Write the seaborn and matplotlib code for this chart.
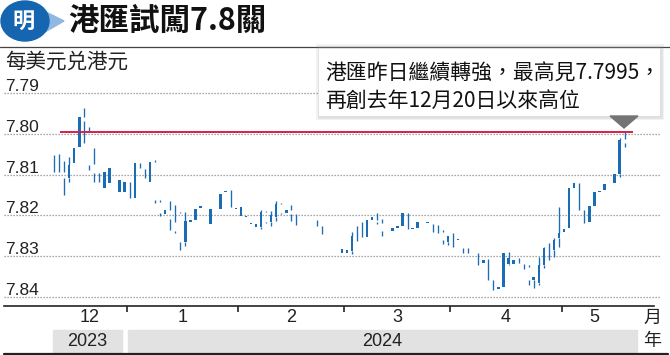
import numpy as np
import pandas as pd
import matplotlib
matplotlib.use("Agg")
import matplotlib.pyplot as plt
import matplotlib.transforms as mtransforms
from matplotlib.patches import Rectangle, Polygon, Ellipse
from matplotlib import font_manager
import seaborn as sns

# ---------------- data ----------------
trade_dates = pd.bdate_range("2023-12-11", "2024-05-17").drop(pd.Timestamp("2024-01-01"))

rate_low = [7.8052, 7.8050, 7.8067, 7.8056, 7.8036, 7.7958, 7.7936, 7.7983, 7.8036, 7.8097,
            7.8094, 7.8083, 7.8089, 7.8113, 7.8119, 7.8119, 7.8072, 7.8072, 7.8086, 7.8068,
            7.8064, 7.8162, 7.8187, 7.8165, 7.8175, 7.8191, 7.8191, 7.8211, 7.8184, 7.8177,
            7.8175, 7.8184, 7.8162, 7.8148, 7.8140, 7.8138, 7.8182, 7.8179, 7.8201, 7.8218,
            7.8221, 7.8187, 7.8189, 7.8189, 7.8165, 7.8169, 7.8187, 7.8175, 7.8197, 7.8199,
            7.8201, 7.8206, 7.8211, 7.8226, 7.8241, 7.8256, 7.8268, 7.8282, 7.8285, 7.8240,
            7.8226, 7.8216, 7.8211, 7.8203, 7.8195, 7.8209, 7.8221, 7.8232, 7.8226, 7.8195,
            7.8195, 7.8230, 7.8217, 7.8211, 7.8216, 7.8221, 7.8224, 7.8236, 7.8250, 7.8244,
            7.8258, 7.8281, 7.8281, 7.8285, 7.8293, 7.8309, 7.8308, 7.8358, 7.8376, 7.8291,
            7.8289, 7.8309, 7.8305, 7.8319, 7.8322, 7.8350, 7.8301, 7.8277, 7.8268, 7.8256,
            7.8180, 7.8233, 7.8134, 7.8121, 7.8120, 7.8187, 7.8177, 7.8142, 7.8140, 7.8123,
            7.8113, 7.8099, 7.8011, 7.7995]
rate_high = [7.8093, 7.8093, 7.8150, 7.8117, 7.8072, 7.8032, 7.8023, 7.8089, 7.8117, 7.8117,
             7.8132, 7.8121, 7.8113, 7.8142, 7.8142, 7.8158, 7.8158, 7.8085, 7.8108, 7.8117,
             7.8169, 7.8201, 7.8197, 7.8236, 7.8242, 7.8285, 7.8275, 7.8216, 7.8211, 7.8182,
             7.8192, 7.8221, 7.8187, 7.8184, 7.8143, 7.8179, 7.8184, 7.8201, 7.8203, 7.8220,
             7.8228, 7.8233, 7.8218, 7.8225, 7.8213, 7.8197, 7.8193, 7.8213, 7.8224, 7.8216,
             7.8221, 7.8226, 7.8226, 7.8246, 7.8273, 7.8280, 7.8285, 7.8291, 7.8291, 7.8295,
             7.8262, 7.8254, 7.8252, 7.8211, 7.8222, 7.8250, 7.8236, 7.8238, 7.8230, 7.8226,
             7.8234, 7.8233, 7.8230, 7.8226, 7.8219, 7.8240, 7.8244, 7.8270, 7.8273, 7.8277,
             7.8260, 7.8293, 7.8293, 7.8300, 7.8322, 7.8317, 7.8358, 7.8383, 7.8381, 7.8375,
             7.8322, 7.8319, 7.8317, 7.8331, 7.8371, 7.8379, 7.8371, 7.8330, 7.8309, 7.8301,
             7.8277, 7.8240, 7.8232, 7.8134, 7.8187, 7.8218, 7.8215, 7.8177, 7.8143, 7.8138,
             7.8126, 7.8120, 7.8105, 7.8033]
rate_open = [7.8052, 7.8050, 7.8109, 7.8076, 7.8036, 7.7958, 7.7969, 7.8076, 7.8097, 7.8097,
             7.8094, 7.8083, 7.8113, 7.8113, 7.8119, 7.8119, 7.8072, 7.8072, 7.8086, 7.8068,
             7.8162, 7.8195, 7.8187, 7.8209, 7.8238, 7.8264, 7.8214, 7.8211, 7.8184, 7.8177,
             7.8192, 7.8184, 7.8187, 7.8148, 7.8140, 7.8138, 7.8182, 7.8179, 7.8201, 7.8218,
             7.8221, 7.8191, 7.8215, 7.8199, 7.8172, 7.8193, 7.8187, 7.8197, 7.8197, 7.8216,
             7.8221, 7.8226, 7.8211, 7.8226, 7.8273, 7.8280, 7.8285, 7.8282, 7.8285, 7.8250,
             7.8226, 7.8216, 7.8211, 7.8203, 7.8217, 7.8238, 7.8236, 7.8232, 7.8226, 7.8195,
             7.8195, 7.8230, 7.8217, 7.8226, 7.8216, 7.8221, 7.8224, 7.8260, 7.8250, 7.8244,
             7.8258, 7.8281, 7.8281, 7.8300, 7.8293, 7.8309, 7.8308, 7.8358, 7.8376, 7.8291,
             7.8304, 7.8309, 7.8305, 7.8319, 7.8358, 7.8350, 7.8322, 7.8281, 7.8268, 7.8260,
             7.8244, 7.8233, 7.8134, 7.8121, 7.8120, 7.8187, 7.8177, 7.8142, 7.8140, 7.8123,
             7.8126, 7.8099, 7.8015, 7.8023]
rate_close = [7.8052, 7.8050, 7.8093, 7.8109, 7.8072, 7.8032, 7.7958, 7.7995, 7.8075, 7.8097,
              7.8132, 7.8121, 7.8089, 7.8142, 7.8142, 7.8119, 7.8158, 7.8072, 7.8086, 7.8117,
              7.8068, 7.8166, 7.8197, 7.8187, 7.8215, 7.8194, 7.8264, 7.8216, 7.8211, 7.8182,
              7.8175, 7.8221, 7.8162, 7.8184, 7.8143, 7.8138, 7.8184, 7.8201, 7.8203, 7.8220,
              7.8228, 7.8228, 7.8192, 7.8215, 7.8205, 7.8172, 7.8193, 7.8187, 7.8197, 7.8199,
              7.8201, 7.8206, 7.8211, 7.8226, 7.8241, 7.8256, 7.8268, 7.8291, 7.8291, 7.8287,
              7.8226, 7.8216, 7.8252, 7.8211, 7.8211, 7.8219, 7.8221, 7.8238, 7.8230, 7.8226,
              7.8195, 7.8233, 7.8230, 7.8211, 7.8219, 7.8221, 7.8224, 7.8241, 7.8264, 7.8244,
              7.8260, 7.8281, 7.8281, 7.8285, 7.8293, 7.8317, 7.8308, 7.8358, 7.8381, 7.8375,
              7.8319, 7.8319, 7.8305, 7.8319, 7.8326, 7.8358, 7.8366, 7.8322, 7.8268, 7.8285,
              7.8256, 7.8240, 7.8232, 7.8134, 7.8120, 7.8187, 7.8215, 7.8177, 7.8143, 7.8138,
              7.8113, 7.8120, 7.8099, 7.8013]

y_ticks = [7.79, 7.80, 7.81, 7.82, 7.83, 7.84]
y_labels = ["7.79", "7.80", "7.81", "7.82", "7.83", "7.84"]
peak_level = 7.7995
title_text = "港匯試闖7.8關"
unit_text = "每美元兑港元"
note_lines = ["港匯昨日繼續轉強，最高見7.7995，", "再創去年12月20日以來高位"]
year_labels = ["2023", "2024"]
month_unit = "月"
year_unit = "年"

# ---------------- style ----------------
sns.set_theme(style="white")
avail = {f.name for f in font_manager.fontManager.ttflist}
num_font = [f for f in ["Liberation Sans Narrow", "Liberation Sans", "DejaVu Sans"] if f in avail]
cjk_font = ["Noto Sans CJK TC", "DejaVu Sans"]
plt.rcParams["font.family"] = cjk_font

W, H = 670, 355
def fx(x):
    return x / W
def fy(y):
    return 1 - y / H

BLUE = "#1a6db5"

fig = plt.figure(figsize=(W / 100, H / 100), dpi=100)
fig.patch.set_facecolor("white")

# axes occupying plot region (pixel 4..660 x, 70..306 y)
ax = fig.add_axes([fx(4), fy(306), fx(660) - fx(4), fy(70) - fy(306)])
ax.set_facecolor("none")
n = len(trade_dates)
idx = np.arange(n)
ax.set_xlim((4 - 54) / 5.05, (660 - 54) / 5.05)
ax.set_ylim(7.79 + 213 / 4080, 7.79 - 23 / 4080)

# gridlines + y labels
blend = mtransforms.blended_transform_factory(ax.transAxes, ax.transData)
lab_off = mtransforms.ScaledTranslation(0, 2 / 100, fig.dpi_scale_trans)
for v, lab in zip(y_ticks, y_labels):
    ax.axhline(v, xmin=0, xmax=1, color="#8a8a8a", lw=0.9, ls=(0, (1, 1.4)), zorder=1)
    ax.text(0.0015, v, lab, transform=blend + lab_off, ha="left", va="baseline",
            fontsize=12.5, family=num_font, color="#222222")

# candles
df = pd.DataFrame({"date": trade_dates, "low": rate_low, "high": rate_high,
                   "open": rate_open, "close": rate_close})
body_top = np.minimum(df["open"], df["close"])
body_bot = np.maximum(df["open"], df["close"])
ax.vlines(idx, df["low"], body_top, color=BLUE, lw=0.95, zorder=3)
ax.vlines(idx, body_bot, df["high"], color=BLUE, lw=0.95, zorder=3)
filled = df["close"] > df["open"]
ax.bar(idx[filled], (body_bot - body_top)[filled], bottom=body_top[filled], width=0.5,
       color=BLUE, linewidth=0, zorder=3)

# red reference line
ax.hlines(peak_level, (60 - 54) / 5.05, (633 - 54) / 5.05, color="#d81f4a", lw=1.4, zorder=4)

# x axis
for s in ["top", "left", "right"]:
    ax.spines[s].set_visible(False)
ax.spines["bottom"].set_visible(True)
ax.spines["bottom"].set_color("#222222")
ax.spines["bottom"].set_linewidth(1.2)
ax.spines["bottom"].set_bounds((4 - 54) / 5.05, (654 - 54) / 5.05)
months = df["date"].dt.month.values
bounds = [i - 0.5 for i in range(1, n) if months[i] != months[i - 1]]
ax.set_xticks(bounds)
ax.tick_params(axis="x", direction="out", length=4, width=1.2, color="#222222",
               labelbottom=False, bottom=True)
ax.set_yticks([])
ax.grid(False)

xblend = mtransforms.blended_transform_factory(ax.transData, ax.transAxes)
month_order = pd.unique(months)
for m in month_order:
    center = idx[months == m].mean()
    ax.text(center, (306 - 318) / 236, str(m), transform=xblend, ha="center", va="center",
            fontsize=13, family=num_font, color="#222222", clip_on=False)
fig.text(fx(652), fy(318), month_unit, ha="center", va="center", fontsize=13, color="#222222")

# year bands
fig.patches.append(Rectangle((fx(53), fy(352)), fx(122) - fx(53), fy(330) - fy(352),
                             transform=fig.transFigure, color="#e2e2e2", zorder=0))
fig.patches.append(Rectangle((fx(128), fy(352)), fx(637) - fx(128), fy(330) - fy(352),
                             transform=fig.transFigure, color="#e2e2e2", zorder=0))
fig.text(fx(87.5), fy(341), year_labels[0], ha="center", va="center", fontsize=13,
         family=num_font, color="#222222")
fig.text(fx(382), fy(341), year_labels[1], ha="center", va="center", fontsize=13,
         family=num_font, color="#222222")
fig.text(fx(652), fy(341), year_unit, ha="center", va="center", fontsize=13, color="#222222")
fig.lines.append(plt.Line2D([fx(4), fx(668)], [fy(354), fy(354)], transform=fig.transFigure,
                            color="#222222", lw=1.6))

# header
fig.lines.append(plt.Line2D([fx(0), fx(670)], [fy(47), fy(47)], transform=fig.transFigure,
                            color="#444444", lw=0.9))
fig.patches.append(Polygon([(fx(38), fy(8)), (fx(64), fy(21)), (fx(38), fy(36))],
                           closed=True, transform=fig.transFigure, color="#8fb8e0", zorder=1))
fig.patches.append(Ellipse((fx(25), fy(21)), 48 / W, 40 / H, transform=fig.transFigure,
                           color="#1565b0", zorder=2))
fig.text(fx(24), fy(21), "明", ha="center", va="center", fontsize=16, fontweight="bold",
         color="white", style="italic", zorder=3)
fig.text(fx(68), fy(21), title_text, ha="left", va="center", fontsize=22, fontweight="bold",
         color="#111111")
fig.text(fx(5), fy(62), unit_text, ha="left", va="center", fontsize=14.8, color="#222222")

# annotation box
for off, a in [(4, 0.10), (2.5, 0.15), (1.2, 0.2)]:
    fig.patches.append(Rectangle((fx(318 - off + 2), fy(116 + off)), fx(342 + 2 * off - 2), fy(48) - fy(116 + 2 * off),
                                 transform=fig.transFigure, color="#888888", alpha=a, zorder=5, lw=0))
fig.patches.append(Rectangle((fx(318), fy(116)), fx(342), fy(48) - fy(116),
                             transform=fig.transFigure, facecolor="white", edgecolor="#dddddd",
                             lw=0.6, zorder=6))
fig.patches.append(Polygon([(fx(610), fy(116)), (fx(638), fy(116)), (fx(624), fy(128))],
                           closed=True, transform=fig.transFigure, color="#747474", zorder=6))
fig.text(fx(325), fy(74), note_lines[0], ha="left", va="center", fontsize=15,
         color="#111111", zorder=7)
fig.text(fx(325), fy(101), note_lines[1], ha="left", va="center", fontsize=15,
         color="#111111", zorder=7)

fig.savefig("out.png", dpi=100, facecolor="white")
